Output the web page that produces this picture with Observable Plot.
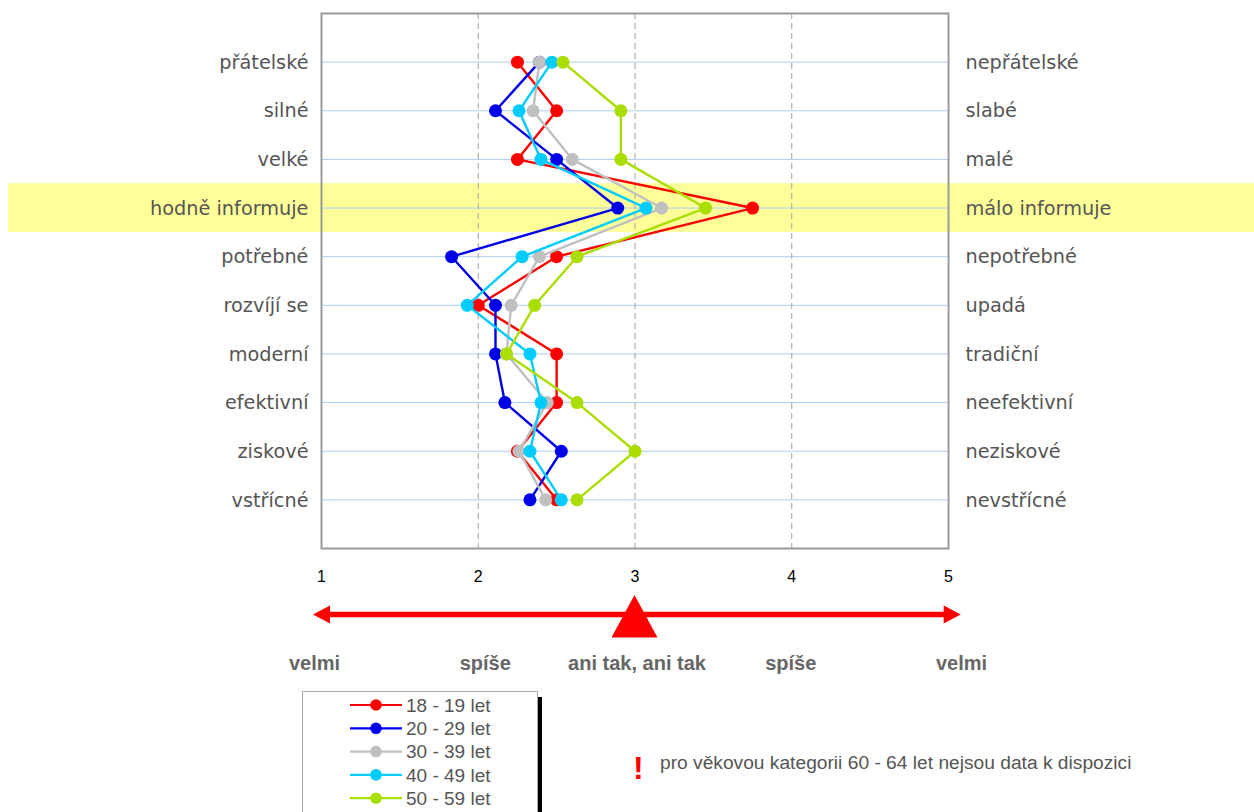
<!DOCTYPE html>
<html>
<head>
<meta charset="utf-8">
<script src="https://cdn.jsdelivr.net/npm/d3@7"></script>
<script src="https://cdn.jsdelivr.net/npm/@observablehq/plot@0.6"></script>
<style>
  html, body { margin: 0; padding: 0; background: #fff; }
  body { width: 1254px; height: 812px; overflow: hidden; position: relative; font-family: "Liberation Sans", Arial, sans-serif; }
  #chart { position: absolute; left: 0; top: 0; }
  #legend { position: absolute; left: 302px; top: 691px; width: 234px; height: 140px; border: 1px solid #aaa; box-shadow: 4px 6px 0 0 #000; background: #fff; }
  #bang { position: absolute; left: 633px; top: 752px; font: bold 32px/1 "Liberation Sans", Arial, sans-serif; color: #ff0000; }
  #note { position: absolute; left: 660px; top: 753px; font: 19.2px/1 "Liberation Sans", Arial, sans-serif; color: #555; white-space: nowrap; }
</style>
</head>
<body>
<div id="chart"></div>
<div id="legend"></div>
<div id="bang">!</div>
<div id="note">pro věkovou kategorii 60 - 64 let nejsou data k dispozici</div>
<script>
// ---- data ----
const leftLabels = ["přátelské", "silné", "velké", "hodně informuje", "potřebné", "rozvíjí se", "moderní", "efektivní", "ziskové", "vstřícné"];
const rightLabels = ["nepřátelské", "slabé", "malé", "málo informuje", "nepotřebné", "upadá", "tradiční", "neefektivní", "neziskové", "nevstřícné"];
const series = ["18 - 19 let", "20 - 29 let", "30 - 39 let", "40 - 49 let", "50 - 59 let"];
const colors = ["#ff0000", "#0000e8", "#c0c0c0", "#00ccff", "#aadd00"];
const v18_19 = [2.25, 2.50, 2.25, 3.75, 2.50, 2.00, 2.50, 2.50, 2.25, 2.50];
const v20_29 = [2.39, 2.11, 2.50, 2.89, 1.83, 2.11, 2.11, 2.17, 2.53, 2.33];
const v30_39 = [2.39, 2.35, 2.60, 3.17, 2.39, 2.21, 2.18, 2.44, 2.26, 2.43];
const v40_49 = [2.47, 2.26, 2.40, 3.07, 2.28, 1.93, 2.33, 2.40, 2.33, 2.53];
const v50_59 = [2.54, 2.91, 2.91, 3.45, 2.63, 2.36, 2.18, 2.63, 3.00, 2.63];
const ticks = [1, 2, 3, 4, 5];
const scaleWords = ["velmi", "spíše", "ani tak, ani tak", "spíše", "velmi"];
const highlightRow = 3;

const values = [v18_19, v20_29, v30_39, v40_49, v50_59];
const data = series.flatMap((s, k) => values[k].map((v, i) => ({series: s, row: i + 1, value: v})));

const wordNudge = [-7, 7, 2, -1, 13];

function arrowDecor(index, scales) {
  const sx = scales.x, sy = scales.y;
  const y0 = sy(11) + 66.5;
  const xL = sx(1) - 8, xR = sx(5) + 12.7, xC = sx(3);
  const g = d3.create("svg:g").attr("fill", "#ff0000");
  g.append("rect").attr("x", xL + 14).attr("y", y0 - 2.75).attr("width", xR - xL - 28).attr("height", 5.5);
  g.append("path").attr("d", `M${xL},${y0}L${xL + 17},${y0 - 9}L${xL + 17},${y0 + 9}Z`);
  g.append("path").attr("d", `M${xR},${y0}L${xR - 17},${y0 - 9}L${xR - 17},${y0 + 9}Z`);
  g.append("path").attr("d", `M${xC},${y0 - 19.5}L${xC - 23},${y0 + 23}L${xC + 23},${y0 + 23}Z`);
  return g.node();
}

const marks = [
  Plot.rect([highlightRow + 1], {y1: d => d - 0.5, y2: d => d + 0.5, fill: "#ffff99", insetLeft: -313, insetRight: -306}),
  Plot.ruleY(leftLabels, {y: (d, i) => i + 1, stroke: "#a9cff5", strokeWidth: 1}),
  Plot.ruleX([2, 3, 4], {stroke: "#a0a0a0", strokeDasharray: "6,4", strokeWidth: 1}),
  Plot.frame({stroke: "#9a9a9a", strokeWidth: 2}),
  Plot.axisX(ticks, {tickSize: 0, tickPadding: 22, fontSize: 16, fill: "#000", label: null, tickFormat: d => String(d)}),
  Plot.text(leftLabels, {y: (d, i) => i + 1, frameAnchor: "left", textAnchor: "end", dx: -13, dy: 0.5, fontSize: 19.3, fontFamily: "DejaVu Sans", fill: "#555"}),
  Plot.text(rightLabels, {y: (d, i) => i + 1, frameAnchor: "right", textAnchor: "start", dx: 17, dy: 0.5, fontSize: 19.3, fontFamily: "DejaVu Sans", fill: "#555"})
];
series.forEach((s, k) => {
  const sub = data.filter(d => d.series === s);
  marks.push(Plot.line(sub, {x: "value", y: "row", stroke: colors[k], strokeWidth: 2.4}));
  marks.push(Plot.dot(sub, {x: "value", y: "row", fill: colors[k], r: 6.5}));
});
marks.push(arrowDecor);
scaleWords.forEach((w, i) => {
  marks.push(Plot.text([w], {x: () => ticks[i], frameAnchor: "bottom", dy: 121.5, dx: wordNudge[i], fontSize: 20, fontWeight: "bold", fill: "#666", fontFamily: "Liberation Sans"}));
});

const chart = Plot.plot({
  width: 1254, height: 690,
  marginLeft: 321, marginRight: 306, marginTop: 13, marginBottom: 142,
  x: {domain: [1, 5], axis: null, label: null},
  y: {domain: [0, 11], reverse: true, axis: null, label: null},
  style: {fontFamily: "Liberation Sans, Arial, sans-serif", background: "transparent", overflow: "visible"},
  marks
});
document.getElementById("chart").append(chart);

// ---- legend ----
const leg = d3.select("#legend").append("svg").attr("width", 234).attr("height", 130).style("display", "block");
series.forEach((s, k) => {
  const cy = 13 + 23.3 * k;
  const g = leg.append("g");
  g.append("line").attr("x1", 47).attr("x2", 99).attr("y1", cy).attr("y2", cy).attr("stroke", colors[k]).attr("stroke-width", 2.2);
  g.append("circle").attr("cx", 73).attr("cy", cy).attr("r", 5.8).attr("fill", colors[k]);
  g.append("text").attr("x", 103).attr("y", cy + 6.6).attr("font-size", 19).attr("fill", "#555").attr("font-family", "Liberation Sans, Arial, sans-serif").text(s);
});
</script>
</body>
</html>
